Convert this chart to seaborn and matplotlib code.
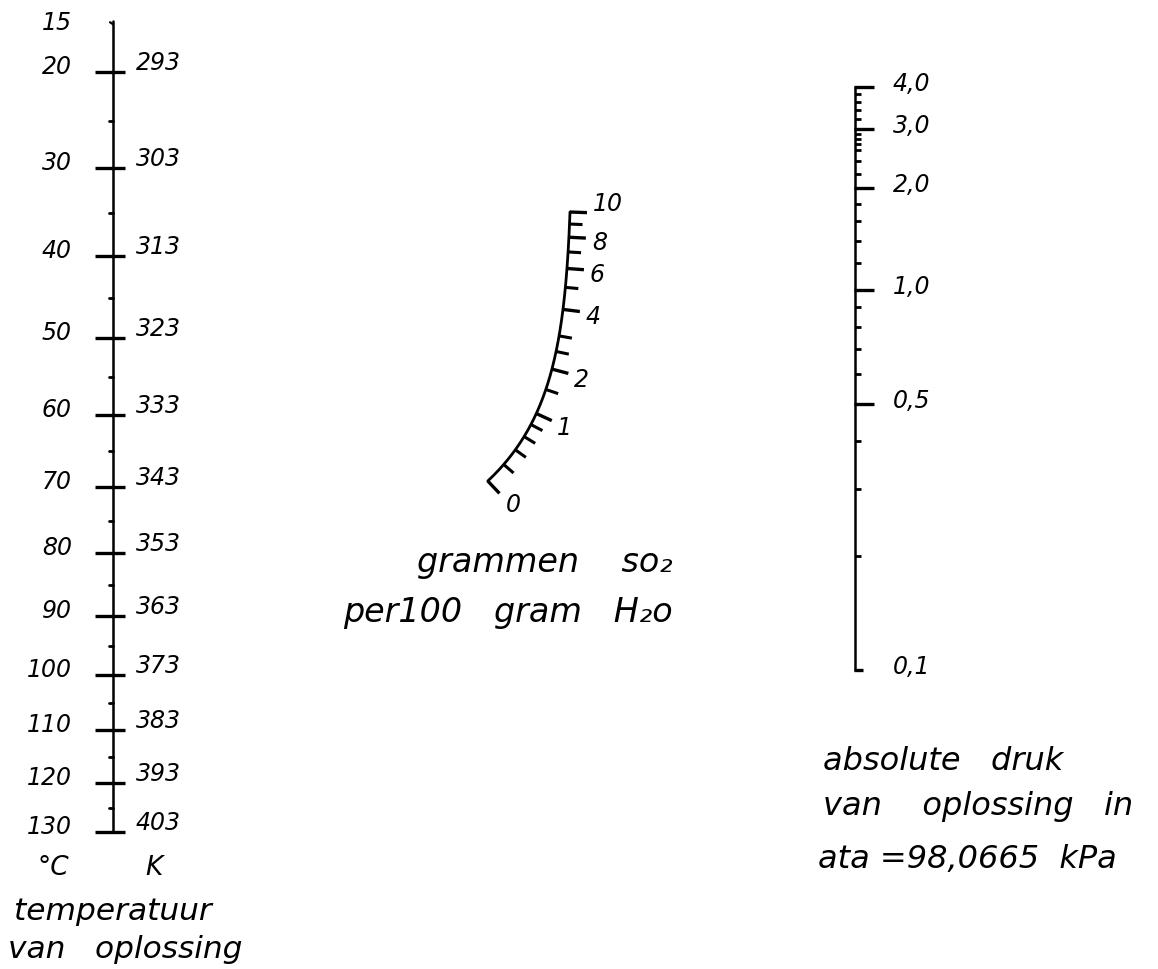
import numpy as np
import matplotlib
matplotlib.use("Agg")
import matplotlib.pyplot as plt
import seaborn as sns

# ---------------- data ----------------
temp_c_major = [20, 30, 40, 50, 60, 70, 80, 90, 100, 110, 120, 130]
temp_c_minor = [25, 35, 45, 55, 65, 75, 85, 95, 105, 115, 125]
temp_c_top = 15
temp_k_labels = ["293", "303", "313", "323", "333", "343", "353", "363",
                 "373", "383", "393", "403"]

so2_major = [0, 1, 2, 4, 6, 8, 10]
so2_major_labels = ["0", "1", "2", "4", "6", "8", "10"]
so2_minor = [0.2, 0.4, 0.6, 0.8, 1.5, 2.5, 3, 5, 7, 9]

press_major = [4.0, 3.0, 2.0, 1.0, 0.5, 0.1]
press_major_labels = ["4,0", "3,0", "2,0", "1,0", "0,5", "0,1"]
press_minor = [3.8, 3.6, 3.4, 3.2, 2.9, 2.8, 2.7, 2.6, 2.4, 2.2,
               1.8, 1.6, 1.4, 1.2, 0.9, 0.8, 0.7, 0.6, 0.4, 0.3, 0.2]

# ---------------- scales (nomogram geometry) ----------------
W, H = 1158, 970
LX = 113          # temperature axis x
RX = 855          # pressure axis x


def temp_y(t, c=230.0, t0=20, t1=130, y0=73, y1=833):
    f = lambda v: 1.0 / (v + c)
    return y0 + (y1 - y0) * (f(t0) - f(np.asarray(t, float))) / (f(t0) - f(t1))


def press_y(p, y1=291, k_hi=338, k_lo=380):
    p = np.asarray(p, float)
    u = np.log10(p)
    return y1 - np.where(u >= 0, k_hi, k_lo) * u


def so2_y(c, a=1.5, y0=482, y10=213):
    c = np.asarray(c, float)
    g = lambda v: np.log10(v + a)
    return y0 - (y0 - y10) * (g(c) - g(0)) / (g(10) - g(0))


def so2_x_of_y(y, x_top=570, y_top=213, A=2.95, B=80.0):
    return x_top - A * (np.exp((np.asarray(y, float) - y_top) / B) - 1)


def so2_point(c):
    y = so2_y(c)
    return so2_x_of_y(y), y


def so2_normal(c, h=1e-3):
    x1, y1 = so2_point(max(c - h, 0))
    x2, y2 = so2_point(c + h)
    tx, ty = x2 - x1, y2 - y1
    n = np.hypot(tx, ty)
    tx, ty = tx / n, ty / n
    return -ty, tx


# ---------------- figure ----------------
sns.set_theme(style="white")
plt.rcParams["font.family"] = ["DejaVu Sans"]
fig = plt.figure(figsize=(W / 100, H / 100), dpi=100)
ax = fig.add_axes([0, 0, 1, 1])
ax.set_xlim(0, W)
ax.set_ylim(H, 0)
ax.axis("off")

ink = "black"
tfont = dict(fontsize=17, style="italic", color=ink)


def hfont(size):
    return dict(fontsize=size, style="italic", color=ink)


# ---- left: temperature ----
ty = temp_y(np.linspace(temp_c_top, temp_c_major[-1], 200))
sns.lineplot(x=np.full_like(ty, LX), y=ty, sort=False, estimator=None,
             color=ink, lw=1.8, ax=ax)
yt = float(temp_y(temp_c_top))
ax.plot([LX - 3, LX], [yt + 1, yt + 3], color=ink, lw=1.6)
for t, kl in zip(temp_c_major, temp_k_labels):
    y = float(temp_y(t))
    ax.plot([LX - 18, LX + 12], [y, y], color=ink, lw=2.4, solid_capstyle="butt")
    ax.text(72, y + 1, str(t), ha="right", va="baseline", **tfont)
    ax.text(136, y - 3, kl, ha="left", va="baseline", **tfont)
for t in temp_c_minor:
    y = float(temp_y(t))
    ax.plot([LX - 4, LX], [y, y], color=ink, lw=2.0)
ax.text(72, yt + 8, str(temp_c_top), ha="right", va="baseline", **tfont)
ax.text(53, 875, "°C", ha="center", va="baseline", **hfont(19))
ax.text(154, 875, "K", ha="center", va="baseline", **hfont(19))
ax.text(14, 920, "temperatuur", ha="left", va="baseline", **hfont(22.5))
ax.text(8, 958, "van   oplossing", ha="left", va="baseline", **hfont(22.5))

# ---- middle: grams SO2 ----
cs = np.linspace(0, 10, 300)
cx, cy = so2_point(cs)
sns.lineplot(x=cx, y=cy, sort=False, estimator=None, color=ink, lw=2.0, ax=ax)
for c in so2_minor:
    x, y = so2_point(c)
    nx, ny = so2_normal(c)
    ax.plot([x, x + 13 * nx], [y, y + 13 * ny], color=ink, lw=2.2,
            solid_capstyle="butt")
for c, lab in zip(so2_major, so2_major_labels):
    x, y = so2_point(c)
    nx, ny = so2_normal(c)
    L = 17
    ax.plot([x, x + L * nx], [y, y + L * ny], color=ink, lw=2.4,
            solid_capstyle="butt")
    ex, ey = x + (L + 6) * nx, y + (L + 6) * ny
    if c == so2_major[-1]:
        ax.text(ex, ey + 2, lab, ha="left", va="bottom", **tfont)
    elif c == so2_major[0]:
        ax.text(ex + 2, ey + 6, lab, ha="left", va="center", **tfont)
    else:
        ax.text(ex, ey + 4, lab, ha="left", va="center", **tfont)
ax.text(673, 572, "grammen    so₂", ha="right", va="baseline", **hfont(24))
ax.text(673, 622, "per100   gram   H₂o", ha="right", va="baseline", **hfont(24))

# ---- right: pressure ----
py = press_y(np.geomspace(press_major[-1], press_major[0], 200))
sns.lineplot(x=np.full_like(py, RX), y=py, sort=False, estimator=None,
             color=ink, lw=1.8, ax=ax)
for p, lab in zip(press_major, press_major_labels):
    y = float(press_y(p))
    L = 8 if p == press_major[-1] else 19
    ax.plot([RX - 1, RX + L], [y, y], color=ink, lw=2.4, solid_capstyle="butt")
    ax.text(893, y + 3, lab, ha="left", va="baseline", **tfont)
for p in press_minor:
    y = float(press_y(p))
    ax.plot([RX, RX + 6], [y, y], color=ink, lw=2.0, solid_capstyle="butt")
ax.text(823, 770, "absolute   druk", ha="left", va="baseline", **hfont(23))
ax.text(823, 815, "van    oplossing   in", ha="left", va="baseline", **hfont(23))
ax.text(818, 868, "ata =98,0665  kPa", ha="left", va="baseline", **hfont(23))

fig.savefig("out.png", dpi=100, facecolor="white")
